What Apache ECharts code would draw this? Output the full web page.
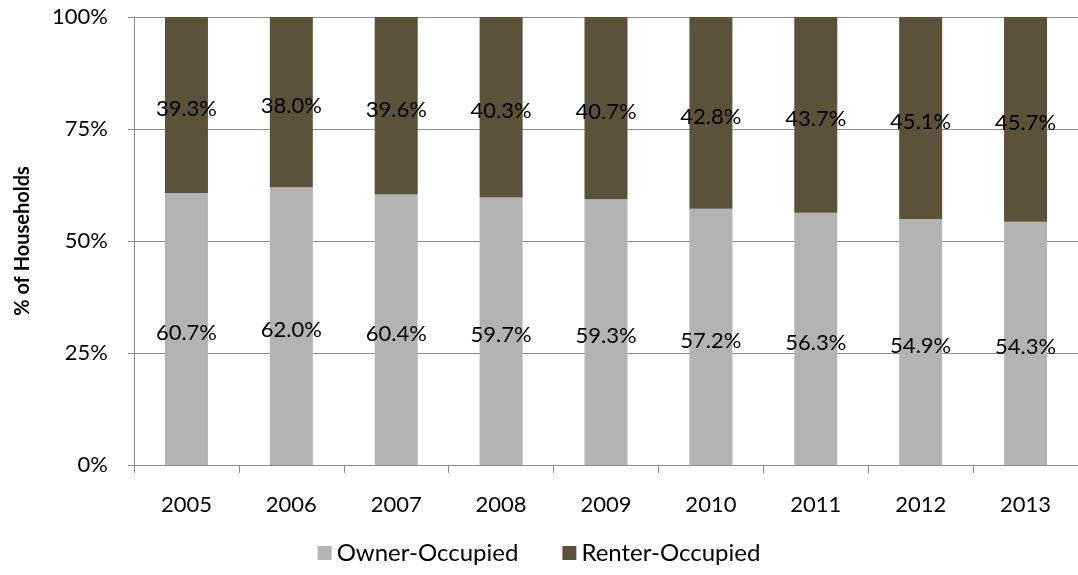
<!DOCTYPE html>
<html>
<head>
<meta charset="utf-8">
<script src="https://cdn.jsdelivr.net/npm/echarts@6/dist/echarts.min.js"></script>
<style>
html,body{margin:0;padding:0;background:#fff;}
#chart{width:1078px;height:575px;}
</style>
</head>
<body>
<div id="chart"></div>
<script>
var years = ['2005','2006','2007','2008','2009','2010','2011','2012','2013'];
var owner = [60.7, 62.0, 60.4, 59.7, 59.3, 57.2, 56.3, 54.9, 54.3];
var renter = [39.3, 38.0, 39.6, 40.3, 40.7, 42.8, 43.7, 45.1, 45.7];
var yTicks = [0, 25, 50, 75, 100];

var fontName = 'Lato, "Open Sans", sans-serif';

function pctLabel(p){
	return p.value.toFixed(1) + '%';
}

var myChart = echarts.init(document.getElementById('chart'));
var option = {
	animation : false,
	textStyle : { fontFamily : fontName },
	grid : {
		left : 134,
		top : 17,
		right : -6,
		bottom : 110
	},
	legend : {
		data : ['Owner-Occupied', 'Renter-Occupied'],
		bottom : 5,
		left : 'center',
		icon : 'rect',
		itemWidth : 14,
		itemHeight : 14,
		itemGap : 44,
		textStyle : { fontSize : 24, color : '#000', fontFamily : fontName }
	},
	xAxis : [ {
		type : 'category',
		data : years,
		axisLine : { lineStyle : { color : '#8c8c8c', width : 1 } },
		axisTick : { show : true, length : 8, lineStyle : { color : '#8c8c8c' } },
		axisLabel : { fontSize : 22, color : '#000', margin : 29, fontFamily : fontName }
	} ],
	yAxis : [ {
		type : 'value',
		min : 0,
		max : 100,
		interval : 25,
		name : '% of Households',
		nameLocation : 'middle',
		nameGap : 101,
		nameTextStyle : { fontSize : 20, fontWeight : 'bold', color : '#000', fontFamily : fontName },
		axisLine : { show : true, lineStyle : { color : '#8c8c8c' } },
		axisTick : { show : true, length : 6, lineStyle : { color : '#8c8c8c' } },
		splitLine : { lineStyle : { color : '#8c8c8c', width : 1 } },
		axisLabel : {
			fontSize : 22,
			color : '#000',
			margin : 26,
			fontFamily : fontName,
			formatter : function(v){ return yTicks.indexOf(v) >= 0 ? v + '%' : ''; }
		}
	} ],
	series : [ {
		name : 'Owner-Occupied',
		type : 'bar',
		stack : 'all',
		barWidth : 43,
		data : owner,
		itemStyle : { color : '#b3b3b3' },
		label : {
			show : true,
			position : 'inside',
			offset : [0, 4],
			color : '#000',
			fontSize : 22,
			fontFamily : fontName,
			formatter : pctLabel
		}
	}, {
		name : 'Renter-Occupied',
		type : 'bar',
		stack : 'all',
		barWidth : 43,
		data : renter,
		itemStyle : { color : '#5b5339' },
		label : {
			show : true,
			position : 'inside',
			offset : [0, 4],
			color : '#000',
			fontSize : 22,
			fontFamily : fontName,
			formatter : pctLabel
		}
	} ]
};
myChart.setOption(option);
</script>
</body>
</html>
